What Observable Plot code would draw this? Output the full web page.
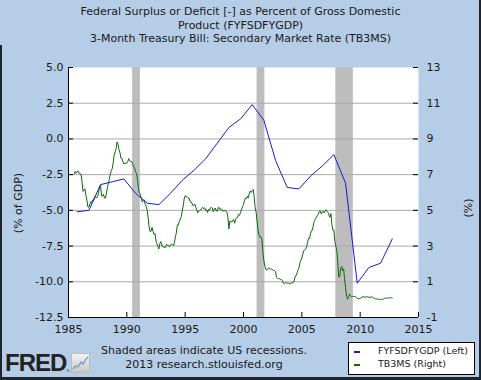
<!DOCTYPE html>
<html>
<head>
<meta charset="utf-8">
<script src="https://cdn.jsdelivr.net/npm/d3@7"></script>
<script src="https://cdn.jsdelivr.net/npm/@observablehq/plot@0.6"></script>
<style>
  html, body { margin: 0; padding: 0; background: #ffffff; }
  #wrap { position: relative; width: 481px; height: 380px; background: #b5cde6; overflow: hidden;
          font-family: "DejaVu Sans", Verdana, sans-serif; color: #1a1a1a; }
  #chart { position: absolute; left: 0; top: 0; }
  .t { position: absolute; white-space: nowrap; font-size: 11px; line-height: 13px; }
  #title { left: 0; width: 481px; top: 5px; text-align: center; font-size: 11px; line-height: 13.5px; }
  #ylab { left: 18px; top: 203px; transform: translate(-50%, -50%) rotate(-90deg); }
  #y2lab { left: 468px; top: 208px; transform: translate(-50%, -50%) rotate(-90deg); }
  #caption { left: 204px; top: 344px; transform: translateX(-50%); text-align: center; line-height: 14px; }
  #legend { position: absolute; left: 348px; top: 342px; width: 125px; height: 31px; background: #fff;
            border: 1px solid #000; font-size: 9.5px; }
  .lrow { position: absolute; left: 0; height: 12px; line-height: 12px; white-space: nowrap; }
  .lsw { position: absolute; left: 5px; top: 6px; width: 6px; height: 2px; }
  .ltx { position: absolute; left: 29px; top: 0; }
  #logo { position: absolute; left: 5px; top: 350px; font-family: "Liberation Sans", Arial, sans-serif;
          font-weight: bold; font-size: 24px; letter-spacing: -1px; color: #222; line-height: 26px; }
  #reg { position: absolute; left: 66px; top: 369px; font-size: 4px; line-height: 4px; color: #555; }
  #icon { position: absolute; left: 71px; top: 353px; }
  #bR { position: absolute; right: 0; top: 0; width: 2px; height: 380px; background: #1c2530; }
  #bB { position: absolute; left: 0; bottom: 0; width: 481px; height: 3px; background: #1c2530; }
  #bL { position: absolute; left: 0; top: 45px; width: 2px; height: 335px; background: #1c2530; }
</style>
</head>
<body>
<div id="wrap">
  <div id="chart"></div>
  <div class="t" id="title">Federal Surplus or Deficit [-] as Percent of Gross Domestic<br>Product (FYFSDFYGDP)<br>3-Month Treasury Bill: Secondary Market Rate (TB3MS)</div>
  <div class="t" id="ylab">(% of GDP)</div>
  <div class="t" id="y2lab">(%)</div>
  <div class="t" id="caption">Shaded areas indicate US recessions.<br>2013 research.stlouisfed.org</div>
  <div id="legend"></div>
  <div id="logo">FRED</div>
  <div id="reg">®</div>
  <svg id="icon" width="19" height="20" viewBox="0 0 19 20">
    <defs><linearGradient id="ig" x1="0" y1="0" x2="0" y2="1"><stop offset="0" stop-color="#f2f2f2"/><stop offset="1" stop-color="#c9c9c9"/></linearGradient></defs>
    <rect x="0.5" y="0.5" width="18" height="19" fill="url(#ig)" stroke="#bdbdbd"/>
    <polyline points="2,16 5,13 7,14 10,9 12,11 15,6 17,4" fill="none" stroke="#6f95c4" stroke-width="1.2"/>
  </svg>
  <div id="bR"></div><div id="bB"></div><div id="bL"></div>
</div>
<script>
// ---- Data ----
// Federal surplus/deficit as % of GDP (fiscal years, plotted at Oct 1 of each year)
const deficitYears = [1985,1986,1987,1988,1989,1990,1991,1992,1993,1994,1995,1996,1997,1998,1999,2000,2001,2002,2003,2004,2005,2006,2007,2008,2009,2010,2011,2012];
const deficitValues = [-5.1,-5.0,-3.2,-3.0,-2.8,-3.8,-4.5,-4.6,-3.8,-2.9,-2.2,-1.4,-0.3,0.8,1.4,2.4,1.3,-1.5,-3.4,-3.5,-2.6,-1.9,-1.1,-3.1,-10.1,-9.0,-8.7,-7.0];

// 3-month T-bill rate, monthly from 1985-07 to 2012-10
const tbillStart = [1985, 6]; // year, zero-based month
const tbillValues = [
  7.05,7.18,7.08,7.17,7.20,7.07,
  7.04,7.03,6.59,6.06,6.12,6.21,5.84,5.57,5.19,5.18,5.35,5.49,
  5.45,5.59,5.56,5.76,5.75,5.69,5.78,6.00,6.32,6.40,5.81,5.80,
  5.90,5.69,5.69,5.92,6.27,6.50,6.73,7.02,7.23,7.34,7.68,8.09,
  8.29,8.48,8.83,8.70,8.40,8.22,7.92,7.91,7.72,7.59,7.65,7.64,
  7.64,7.74,7.90,7.77,7.74,7.73,7.62,7.45,7.36,7.17,7.06,6.74,
  6.22,5.94,5.91,5.65,5.46,5.57,5.58,5.33,5.22,4.99,4.56,4.07,
  3.80,3.84,4.05,3.81,3.66,3.70,3.28,3.14,2.97,2.84,3.14,3.25,
  3.06,2.95,2.97,2.89,2.96,3.10,3.05,3.05,2.96,3.04,3.12,3.08,
  3.02,3.21,3.52,3.74,4.19,4.18,4.39,4.50,4.64,4.96,5.25,5.64,
  5.81,5.80,5.73,5.67,5.70,5.50,5.47,5.41,5.26,5.30,5.35,5.16,
  5.02,4.87,4.96,4.99,5.02,5.11,5.17,5.09,5.15,5.01,5.03,4.87,
  5.05,5.00,5.14,5.17,5.13,4.92,5.07,5.13,4.97,4.95,5.15,5.16,
  5.04,5.09,5.03,4.95,5.00,4.98,4.96,4.90,4.61,3.96,4.41,4.39,
  4.34,4.45,4.48,4.28,4.51,4.59,4.60,4.76,4.73,4.88,5.07,5.20,
  5.32,5.55,5.69,5.66,5.79,5.69,5.96,6.09,6.00,6.11,6.17,5.77,
  5.15,4.88,4.42,3.87,3.62,3.49,3.51,3.36,2.64,2.16,1.87,1.69,
  1.65,1.73,1.79,1.72,1.73,1.70,1.68,1.62,1.63,1.58,1.23,1.19,
  1.17,1.17,1.13,1.13,1.07,0.92,0.90,0.95,0.94,0.92,0.93,0.90,
  0.88,0.93,0.94,0.94,1.02,1.27,1.33,1.48,1.65,1.76,2.07,2.19,
  2.33,2.54,2.74,2.78,2.84,2.97,3.22,3.44,3.42,3.71,3.88,3.89,
  4.24,4.43,4.51,4.60,4.72,4.79,4.95,4.96,4.81,4.92,4.94,4.85,
  4.98,5.03,4.94,4.87,4.73,4.61,4.82,4.20,3.89,3.90,3.27,3.00,
  2.75,2.12,1.26,1.29,1.73,1.86,1.63,1.72,1.13,0.67,0.19,0.03,
  0.13,0.30,0.21,0.16,0.18,0.18,0.18,0.17,0.12,0.07,0.05,0.05,
  0.06,0.11,0.15,0.16,0.16,0.12,0.16,0.16,0.15,0.13,0.14,0.14,
  0.15,0.13,0.10,0.06,0.04,0.04,0.04,0.02,0.01,0.02,0.01,0.01,
  0.03,0.09,0.08,0.08,0.09,0.09,0.10,0.10,0.11,0.10
];

// US recessions
const recessionStarts = ["1990-07-01","2001-03-01","2007-12-01"];
const recessionEnds   = ["1991-03-01","2001-11-01","2009-06-01"];

// Axis ticks
const xTickYears = [1985,1990,1995,2000,2005,2010,2015];
const leftTicks  = [5.0,2.5,0.0,-2.5,-5.0,-7.5,-10.0,-12.5];
const rightTicks = [13,11,9,7,5,3,1,-1];

const seriesNames = ["FYFSDFYGDP (Left)","TB3MS (Right)"];
const seriesColors = ["#1a1acc","#0b6a0b"];

// ---- Build tables ----
const U = (y, m = 0, d = 1) => new Date(Date.UTC(y, m, d));
const deficit = deficitYears.map((y, i) => ({date: U(y, 9, 1), value: deficitValues[i]}));
const tbill = tbillValues.map((v, i) => ({date: U(tbillStart[0], tbillStart[1] + i, 1), value: v}));
const recessions = recessionStarts.map((s, i) => ({start: new Date(s), end: new Date(recessionEnds[i])}));
const xTicks = xTickYears.map(y => U(y));

// right axis [-1, 13] mapped onto left axis [-12.5, 5]
const rightToLeft = d3.scaleLinear().domain([rightTicks[rightTicks.length-1], rightTicks[0]]).range([leftTicks[leftTicks.length-1], leftTicks[0]]);

const W = 481, H = 380, mL = 68, mR = 63, mT = 67, mB = 63;
const frameW = W - mL - mR, frameH = H - mT - mB;

const chart = Plot.plot({
  width: W, height: H,
  marginLeft: mL, marginRight: mR, marginTop: mT, marginBottom: mB,
  style: {background: "transparent", fontFamily: "DejaVu Sans, Verdana, sans-serif", fontSize: "11px", color: "#1a1a1a", overflow: "visible"},
  x: {type: "utc", domain: [xTicks[0], xTicks[xTicks.length-1]]},
  y: {domain: [leftTicks[leftTicks.length-1], leftTicks[0]]},
  marks: [
    Plot.frame({fill: "white", stroke: "none"}),
    Plot.rect(recessions, {x1: "start", x2: "end", fill: "#bdbdbd"}),
    Plot.ruleY(leftTicks.slice(1, -1), {stroke: "#a9a9a9", strokeWidth: 1}),
    Plot.line(tbill, {x: "date", y: d => rightToLeft(d.value), stroke: seriesColors[1], strokeWidth: 1}),
    Plot.line(deficit, {x: "date", y: "value", stroke: seriesColors[0], strokeWidth: 1}),
    // inward tick marks
    Plot.ruleX(xTicks, {insetTop: frameH - 5, stroke: "#000"}),
    Plot.ruleY(leftTicks, {insetRight: frameW - 5, stroke: "#000"}),
    Plot.ruleY(leftTicks, {insetLeft: frameW - 5, stroke: "#000"}),
    // axis lines
    Plot.ruleX([xTicks[0]], {stroke: "#000"}),
    Plot.ruleY([leftTicks[leftTicks.length-1]], {stroke: "#000"}),
    // tick labels
    Plot.axisX(xTicks, {tickSize: 0, tickPadding: 8, tickFormat: d => String(d.getUTCFullYear()), label: null}),
    Plot.axisY(leftTicks, {anchor: "left", tickSize: 0, tickPadding: 5, tickFormat: d => d.toFixed(1), label: null}),
    Plot.axisY(leftTicks, {anchor: "right", tickSize: 0, tickPadding: 8, tickFormat: (d, i) => String(rightTicks[i]), label: null})
  ]
});
document.getElementById("chart").appendChild(chart);

// legend
const legend = document.getElementById("legend");
seriesNames.forEach((name, i) => {
  const row = document.createElement("div");
  row.className = "lrow";
  row.style.top = (2 + i * 13) + "px";
  row.style.width = "100%";
  row.innerHTML = `<span class="lsw" style="background:${seriesColors[i]}"></span><span class="ltx">${name}</span>`;
  legend.appendChild(row);
});
</script>
</body>
</html>
